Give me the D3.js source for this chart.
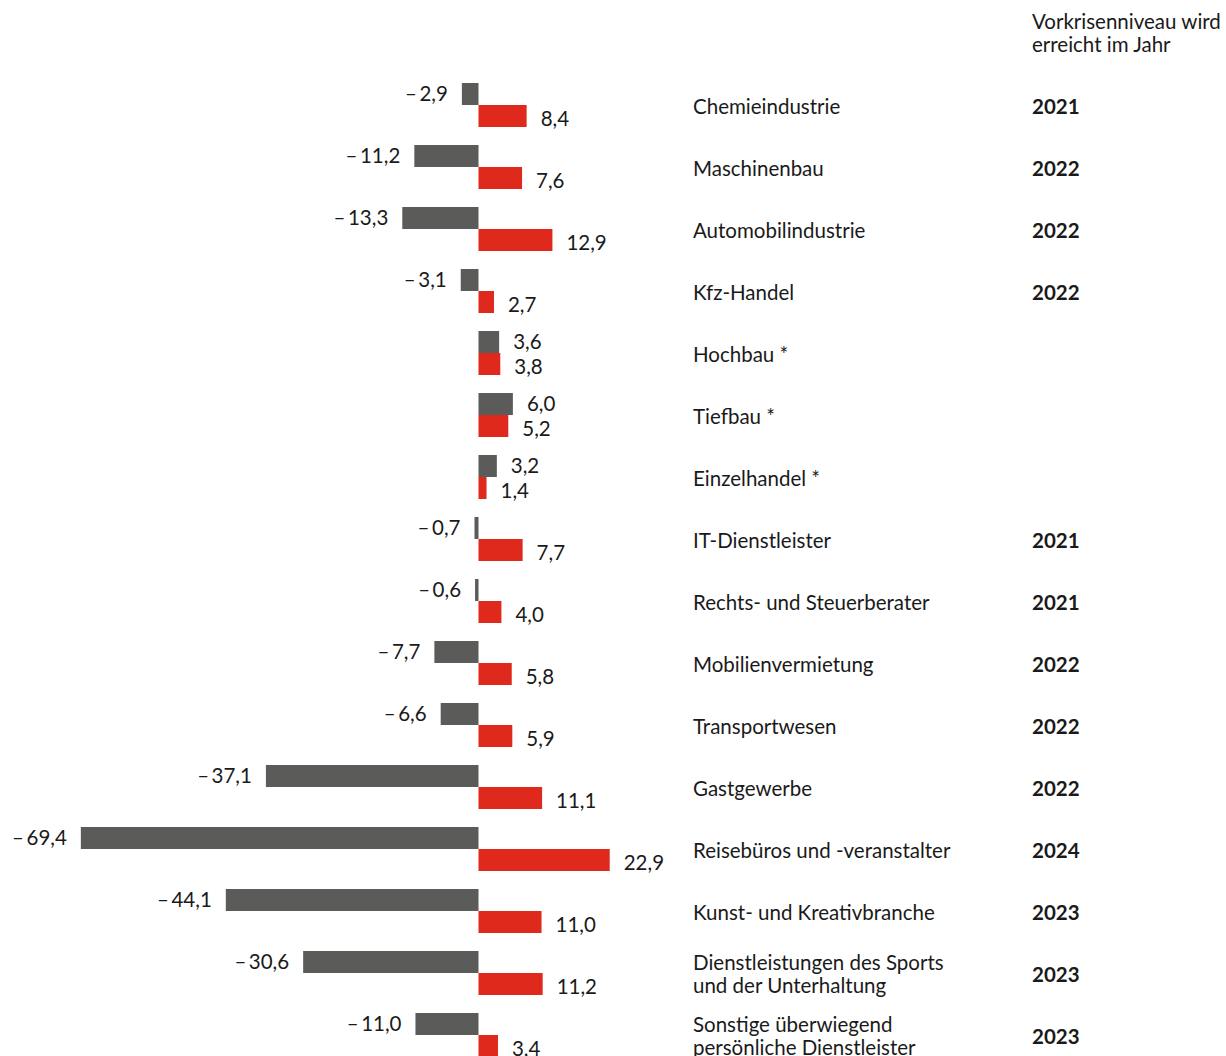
<!DOCTYPE html>
<html>
<head>
<meta charset="utf-8">
<script src="https://cdn.jsdelivr.net/npm/d3@7"></script>
<style>
  html, body { margin: 0; padding: 0; background: #fff; }
  svg { display: block; font-family: Lato, "Open Sans", sans-serif; }
</style>
</head>
<body>
<div id="chart"></div>
<script>
// Branchen (zweizeilige Namen mit "\n")
const categories = [
  "Chemieindustrie",
  "Maschinenbau",
  "Automobilindustrie",
  "Kfz-Handel",
  "Hochbau *",
  "Tiefbau *",
  "Einzelhandel *",
  "IT-Dienstleister",
  "Rechts- und Steuerberater",
  "Mobilienvermietung",
  "Transportwesen",
  "Gastgewerbe",
  "Reisebüros und -veranstalter",
  "Kunst- und Kreativbranche",
  "Dienstleistungen des Sports\nund der Unterhaltung",
  "Sonstige überwiegend\npersönliche Dienstleister"
];

// Veränderung 2020 (grau) und 2021 (rot), in Prozent
const values2020 = [-2.9, -11.2, -13.3, -3.1, 3.6, 6.0, 3.2, -0.7, -0.6, -7.7, -6.6, -37.1, -69.4, -44.1, -30.6, -11.0];
const values2021 = [8.4, 7.6, 12.9, 2.7, 3.8, 5.2, 1.4, 7.7, 4.0, 5.8, 5.9, 11.1, 22.9, 11.0, 11.2, 3.4];

// Jahr, in dem das Vorkrisenniveau erreicht wird
const recoveryYears = ["2021", "2022", "2022", "2022", "", "", "", "2021", "2021", "2022", "2022", "2022", "2024", "2023", "2023", "2023"];

const headerLines = ["Vorkrisenniveau wird", "erreicht im Jahr"];

const series = ["2020", "2021"];
const colors = { "2020": "#5b5b59", "2021": "#e0291d" };

const width = 1226;
const height = 1056;
const step = 62;
const barGroup = 44;

const rows = categories.map((c, i) => ({
  name: c,
  year: recoveryYears[i],
  bars: [
    { key: "2020", value: values2020[i] },
    { key: "2021", value: values2021[i] }
  ]
}));

const svg = d3.select("#chart")
  .append("svg")
  .attr("width", width)
  .attr("height", height)
  .attr("viewBox", [0, 0, width, height]);

const x = d3.scaleLinear()
  .domain([-70, 25])
  .range([77.4, 621.75]);

const y = d3.scaleBand()
  .domain(d3.range(categories.length))
  .range([83, 83 + step * categories.length - (step - barGroup)])
  .paddingInner((step - barGroup) / step)
  .paddingOuter(0);

const ySub = d3.scaleBand()
  .domain(series)
  .range([0, y.bandwidth()]);

const fmt = (v) => {
  const s = Math.abs(v).toFixed(1).replace(".", ",");
  return v < 0 ? "\u2013\u2009" + s : s;
};

const fontSize = 20.5;
const textColor = "#1a1a1a";

// Header
svg.append("text")
  .attr("x", 1032)
  .attr("y", 29)
  .attr("font-size", fontSize)
  .attr("fill", textColor)
  .selectAll("tspan")
  .data(headerLines)
  .join("tspan")
  .attr("x", 1032)
  .attr("dy", (d, i) => (i === 0 ? 0 : 23))
  .text((d) => d);

const row = svg.append("g")
  .selectAll("g")
  .data(rows)
  .join("g")
  .attr("transform", (d, i) => `translate(0,${y(i)})`);

// Balken
row.selectAll("rect")
  .data((d) => d.bars)
  .join("rect")
  .attr("x", (d) => x(Math.min(0, d.value)))
  .attr("y", (d) => ySub(d.key))
  .attr("width", (d) => Math.abs(x(d.value) - x(0)))
  .attr("height", ySub.bandwidth())
  .attr("fill", (d) => colors[d.key]);

// Werte
row.selectAll("text.value")
  .data((d) => d.bars)
  .join("text")
  .attr("class", "value")
  .attr("x", (d) => (d.value < 0 ? x(d.value) - 14 : x(d.value) + 14))
  .attr("y", (d) => ySub(d.key) + ySub.bandwidth() / 2)
  .attr("dy", (d) => (d.key === "2020" ? "0.32em" : "0.48em"))
  .attr("text-anchor", (d) => (d.value < 0 ? "end" : "start"))
  .attr("font-size", fontSize)
  .attr("fill", textColor)
  .text((d) => fmt(d.value));

// Branchennamen
row.append("text")
  .attr("x", 693)
  .attr("y", y.bandwidth() / 2)
  .attr("font-size", fontSize)
  .attr("fill", textColor)
  .each(function (d) {
    const lines = d.name.split("\n");
    const off = -(lines.length - 1) * 11.5;
    d3.select(this)
      .selectAll("tspan")
      .data(lines)
      .join("tspan")
      .attr("x", 693)
      .attr("y", (l, i) => y.bandwidth() / 2 + off + i * 23)
      .attr("dy", "0.42em")
      .text((l) => l);
  });

// Jahr
row.append("text")
  .attr("x", 1032)
  .attr("y", y.bandwidth() / 2)
  .attr("dy", "0.42em")
  .attr("font-size", fontSize)
  .attr("font-weight", "bold")
  .attr("fill", textColor)
  .text((d) => d.year);
</script>
</body>
</html>
